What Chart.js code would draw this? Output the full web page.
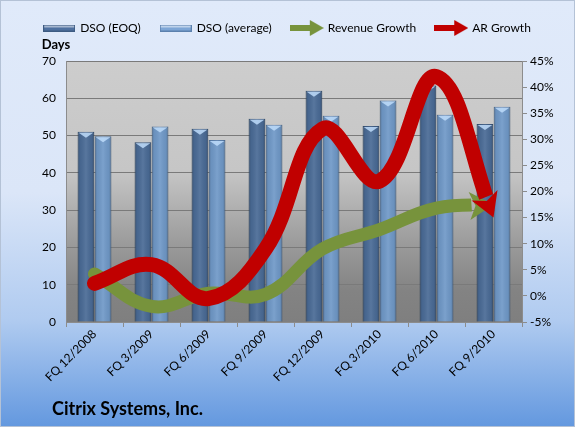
<!DOCTYPE html>
<html>
<head>
<meta charset="utf-8">
<script src="https://cdn.jsdelivr.net/npm/chart.js@4/dist/chart.umd.min.js"></script>
<style>
  html, body { margin: 0; padding: 0; background: #fff; }
  #wrap { width: 575px; height: 427px; }
</style>
</head>
<body>
<div id="wrap"><canvas id="dsoChart" width="575" height="427"></canvas></div>
<script>
// data
const categories = ["FQ 12/2008", "FQ 3/2009", "FQ 6/2009", "FQ 9/2009", "FQ 12/2009", "FQ 3/2010", "FQ 6/2010", "FQ 9/2010"];
const dsoEoq = [51.0, 48.2, 51.8, 54.5, 62.0, 52.6, 63.4, 53.1];
const dsoAvg = [49.8, 52.4, 48.8, 52.9, 55.3, 59.4, 55.6, 57.7];
const revenueGrowth = [4.2, -2.0, 0.5, 0.3, 9.0, 12.7, 16.8, 17.5];
const arGrowth = [2.4, 6.0, -0.5, 9.0, 32.0, 22.0, 42.0, 15.0];
const daysTicks = [0, 10, 20, 30, 40, 50, 60, 70];
const pctTicks = [-5, 0, 5, 10, 15, 20, 25, 30, 35, 40, 45];
const chartTitle = "Citrix Systems, Inc.";

const FONT = "Lato, 'Liberation Sans', sans-serif";
const ARROW_LEN = 24, ARROW_W = 28;

// small legend markers
function barSwatch(fill, edge) {
  var c = document.createElement("canvas");
  c.width = 32; c.height = 7;
  var g = c.getContext("2d");
  g.fillStyle = fill; g.fillRect(0, 0, 32, 7);
  g.fillStyle = "rgba(255,255,255,0.5)"; g.fillRect(1, 1, 30, 2);
  g.strokeStyle = edge; g.lineWidth = 1; g.strokeRect(0.5, 0.5, 31, 6);
  return c;
}
function arrowSwatch(color) {
  var c = document.createElement("canvas");
  c.width = 34; c.height = 16;
  var g = c.getContext("2d");
  g.fillStyle = color;
  g.fillRect(0, 5, 22, 6);
  g.beginPath(); g.moveTo(20, 0); g.lineTo(34, 8); g.lineTo(20, 16); g.closePath(); g.fill();
  return c;
}

function lineEnd(meta) {
  var pts = meta.data;
  var p = pts[pts.length - 1], q = pts[pts.length - 2];
  var dx = p.x - (p.cp1x !== undefined ? p.cp1x : q.x);
  var dy = p.y - (p.cp1y !== undefined ? p.cp1y : q.y);
  var len = Math.sqrt(dx * dx + dy * dy);
  if (len < 0.5) { dx = p.x - q.x; dy = p.y - q.y; len = Math.sqrt(dx * dx + dy * dy); }
  return { x: p.x, y: p.y, dx: dx / len, dy: dy / len };
}

const decorPlugin = {
  id: "decor",
  beforeLayout(chart) {
    // leave a gap between the legend row and the plot
    var lg = chart.legend;
    if (lg && !lg._gapPatched) {
      var fit = lg.fit;
      lg.fit = function() { fit.call(this); this.height += 17; };
      lg._gapPatched = true;
    }
  },
  beforeDraw(chart) {
    var ctx = chart.ctx, a = chart.chartArea;
    var bg = ctx.createLinearGradient(0, 0, 0, chart.height);
    bg.addColorStop(0, "#e0eafa");
    bg.addColorStop(0.45, "#dbe6f8");
    bg.addColorStop(0.75, "#b0cbf0");
    bg.addColorStop(1, "#6398df");
    ctx.save();
    ctx.fillStyle = bg;
    ctx.fillRect(0, 0, chart.width, chart.height);
    var pg = ctx.createLinearGradient(0, a.top, 0, a.bottom);
    pg.addColorStop(0, "#cdcdcd");
    pg.addColorStop(0.42, "#c6c6c6");
    pg.addColorStop(0.7, "#9b9b9b");
    pg.addColorStop(0.88, "#838383");
    pg.addColorStop(1, "#7f7f7f");
    ctx.fillStyle = pg;
    ctx.fillRect(a.left, a.top, a.right - a.left, a.bottom - a.top);
    ctx.restore();
  },
  beforeDatasetDraw(chart, args) {
    var ds = chart.data.datasets[args.index];
    if (ds.type !== "line") return;
    var e = lineEnd(args.meta);
    var bx = e.x - e.dx * (ARROW_LEN - 2), by = e.y - e.dy * (ARROW_LEN - 2);
    var nx = -e.dy, ny = e.dx, B = 2000;
    var ctx = chart.ctx;
    ctx.save();
    ctx.beginPath();
    ctx.rect(0, 0, chart.width, chart.height);
    ctx.moveTo(bx + nx * B, by + ny * B);
    ctx.lineTo(bx + nx * B + e.dx * B, by + ny * B + e.dy * B);
    ctx.lineTo(bx - nx * B + e.dx * B, by - ny * B + e.dy * B);
    ctx.lineTo(bx - nx * B, by - ny * B);
    ctx.closePath();
    ctx.clip("evenodd");
  },
  afterDatasetDraw(chart, args) {
    var ds = chart.data.datasets[args.index];
    var ctx = chart.ctx;
    if (ds.type === "line") {
      ctx.restore();
      var e = lineEnd(args.meta);
      var bx = e.x - e.dx * ARROW_LEN, by = e.y - e.dy * ARROW_LEN;
      var nx = -e.dy, ny = e.dx;
      ctx.save();
      ctx.fillStyle = ds.borderColor;
      ctx.beginPath();
      ctx.moveTo(e.x, e.y);
      ctx.lineTo(bx + nx * ARROW_W / 2, by + ny * ARROW_W / 2);
      ctx.lineTo(bx + e.dx * 6, by + e.dy * 6);
      ctx.lineTo(bx - nx * ARROW_W / 2, by - ny * ARROW_W / 2);
      ctx.closePath();
      ctx.fill();
      ctx.restore();
      return;
    }
    // bar shading and light cap
    ctx.save();
    args.meta.data.forEach(function(el) {
      var l = el.x - el.width / 2, r = el.x + el.width / 2;
      var g = ctx.createLinearGradient(l, 0, r, 0);
      g.addColorStop(0, "rgba(0,0,0,0.22)");
      g.addColorStop(0.15, "rgba(0,0,0,0.05)");
      g.addColorStop(0.5, "rgba(255,255,255,0.08)");
      g.addColorStop(0.85, "rgba(0,0,0,0.05)");
      g.addColorStop(1, "rgba(0,0,0,0.22)");
      ctx.fillStyle = g;
      ctx.fillRect(l, el.y, r - l, el.base - el.y);
      ctx.fillStyle = "rgba(190,220,250,0.85)";
      ctx.beginPath();
      ctx.moveTo(l + 1, el.y + 1);
      ctx.lineTo(r - 1, el.y + 1);
      ctx.lineTo(el.x, el.y + 6);
      ctx.closePath();
      ctx.fill();
    });
    ctx.restore();
  },
  afterDraw(chart) {
    var ctx = chart.ctx, a = chart.chartArea;
    ctx.save();
    ctx.fillStyle = "#000";
    ctx.font = "bold 13px " + FONT;
    ctx.textAlign = "center";
    ctx.textBaseline = "middle";
    ctx.fillText("Days", a.left - 10, a.top - 16);
    ctx.textAlign = "left";
    ctx.font = "bold 18px " + FONT;
    ctx.fillText(chartTitle, 52, 409);
    ctx.strokeStyle = "#b4c2d6";
    ctx.lineWidth = 1;
    ctx.strokeRect(0.5, 0.5, chart.width - 1, chart.height - 1);
    ctx.restore();
  }
};

new Chart(document.getElementById("dsoChart"), {
  type: "bar",
  data: {
    labels: categories,
    datasets: [{
      label: "DSO (EOQ)",
      data: dsoEoq,
      backgroundColor: "#4a6b96",
      borderColor: "#3d5b82",
      borderWidth: 1,
      yAxisID: "y",
      order: 3,
      pointStyle: barSwatch("#4f71a0", "#3d5b82")
    }, {
      label: "DSO (average)",
      data: dsoAvg,
      backgroundColor: "#7099c8",
      borderColor: "#5b80ad",
      borderWidth: 1,
      yAxisID: "y",
      order: 3,
      pointStyle: barSwatch("#7ea6d6", "#5b80ad")
    }, {
      type: "line",
      label: "Revenue Growth",
      data: revenueGrowth,
      borderColor: "#77933c",
      backgroundColor: "#77933c",
      borderWidth: 13,
      borderCapStyle: "round",
      tension: 0.4,
      pointRadius: 0,
      yAxisID: "y1",
      order: 2,
      pointStyle: arrowSwatch("#77933c")
    }, {
      type: "line",
      label: "AR Growth",
      data: arGrowth,
      borderColor: "#c00000",
      backgroundColor: "#c00000",
      borderWidth: 15,
      borderCapStyle: "round",
      tension: 0.4,
      pointRadius: 0,
      yAxisID: "y1",
      order: 1,
      pointStyle: arrowSwatch("#c00000")
    }]
  },
  options: {
    responsive: false,
    animation: false,
    events: [],
    layout: { padding: { top: 2, right: 0, left: 0, bottom: 35 } },
    datasets: { bar: { barPercentage: 0.97, categoryPercentage: 0.6 } },
    plugins: {
      tooltip: { enabled: false },
      legend: {
        position: "top",
        labels: {
          usePointStyle: true,
          pointStyleWidth: 30,
          boxHeight: 8,
          padding: 20,
          color: "#000",
          font: { family: FONT, size: 12 },
          sort: function(a, b) { return a.datasetIndex - b.datasetIndex; }
        }
      },
      title: { display: false }
    },
    scales: {
      x: {
        grid: { drawOnChartArea: false, drawTicks: true, tickLength: 5, color: "#8c8c8c", offset: true },
        border: { color: "#8c8c8c" },
        ticks: { color: "#000", font: { family: FONT, size: 12 }, maxRotation: 45, minRotation: 45, autoSkip: false, padding: 0 },
        afterFit: function(s) { s.height = 70; }
      },
      y: {
        position: "left",
        min: 0, max: 70,
        afterBuildTicks: function(s) { s.ticks = daysTicks.map(function(v) { return { value: v }; }); },
        grid: { color: "#7a7a7a", drawTicks: false },
        border: { color: "#8c8c8c" },
        ticks: { color: "#000", font: { family: FONT, size: 12 }, padding: 10 },
        afterFit: function(s) { s.width = 66; }
      },
      y1: {
        position: "right",
        min: -5, max: 45,
        afterBuildTicks: function(s) { s.ticks = pctTicks.map(function(v) { return { value: v }; }); },
        grid: { drawOnChartArea: false, drawTicks: true, tickLength: 5, color: "#8c8c8c" },
        border: { color: "#8c8c8c" },
        ticks: { color: "#000", font: { family: FONT, size: 12 }, padding: 3, callback: function(v) { return v + "%"; } },
        afterFit: function(s) { s.width = 53; }
      }
    }
  },
  plugins: [decorPlugin]
});
</script>
</body>
</html>
